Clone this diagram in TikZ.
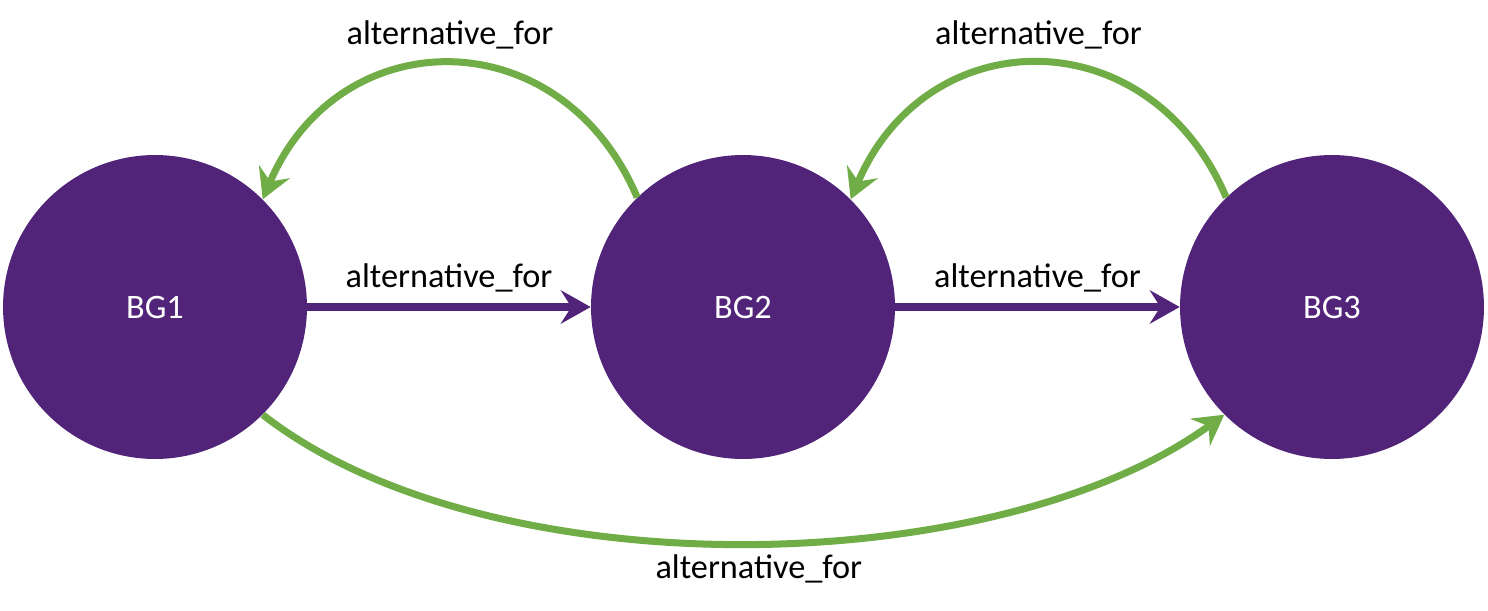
\documentclass[tikz,border=0pt]{standalone}
\usepackage{fontspec}
\setmainfont{Carlito}
\usepackage{tikz}
\usetikzlibrary{
  arrows.meta,
  positioning,
  calc
}
\definecolor{bgPurple}{HTML}{51247A}
\definecolor{bgGreen}{HTML}{70AD47}
\tikzset{
  bgnode/.style={
    circle, fill=bgPurple, minimum size=6.08cm, inner sep=0pt,
    font=\fontsize{19.5}{23}\selectfont, text=white
  },
  relhead/.style={-{Stealth[length=17pt, width=19pt, inset=6pt]}},
  forward/.style={relhead, line width=4pt, bgPurple},
  altback/.style={relhead, line width=4pt, bgGreen},
  rellabel/.style={font=\fontsize{19.5}{23}\selectfont, text=black}
}

\begin{document}
\begin{tikzpicture}[x=0.02cm, y=0.02cm]
  \useasboundingbox (0,0) rectangle (1488,610);
  \node[bgnode] (bg1) at (155,303) {BG1};
  \node[bgnode] (bg2) at (743,303) {BG2};
  \node[bgnode] (bg3) at (1332,303) {BG3};
  % straight relations
  \draw[forward] (bg1) -- node[rellabel, above=3pt] {alternative\_for} (bg2);
  \draw[forward] (bg2) -- node[rellabel, above=3pt] {alternative\_for} (bg3);
  % arcs back over the top
  \draw[altback] (bg2.134) to[out=113, in=67, looseness=1.33]
    node[rellabel, above=3pt] {alternative\_for} (bg1.45);
  \draw[altback] (bg3.134) to[out=113, in=67, looseness=1.33]
    node[rellabel, above=3pt] {alternative\_for} (bg2.45);
  % long arc underneath
  \draw[altback] (bg1.-45) to[out=-38, in=216, looseness=0.76]
    node[rellabel, below=1pt, xshift=10] {alternative\_for} (bg3.225);
\end{tikzpicture}
\end{document}
